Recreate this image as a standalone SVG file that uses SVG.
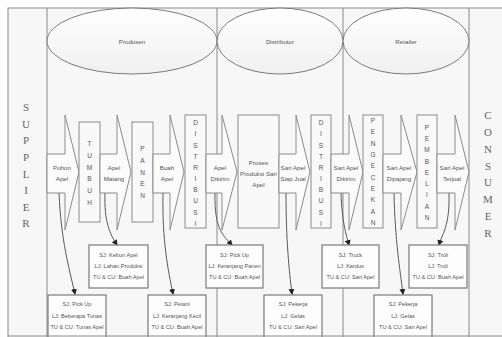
<svg xmlns="http://www.w3.org/2000/svg" width="502" height="337" viewBox="0 0 502 337">
<defs>
<marker id="ah" markerWidth="6" markerHeight="6" refX="5" refY="3" orient="auto" markerUnits="userSpaceOnUse">
<path d="M0,0 L6,3 L0,6 Z" fill="#222"/>
</marker>
<linearGradient id="g" x1="0" y1="0" x2="0" y2="1">
<stop offset="0" stop-color="#ffffff"/>
<stop offset="1" stop-color="#f0f0f0"/>
</linearGradient>
</defs>
<style>
.frame{fill:#f7f7f7;stroke:#8a8a8a;stroke-width:1}
.col{stroke:#8a8a8a;stroke-width:1;fill:none}
.ell{fill:url(#g);stroke:#7a7a7a;stroke-width:1}
.arr{fill:#fbfbfb;stroke:#8c8c8c;stroke-width:1}
.pbox{fill:#f9f9f9;stroke:#8c8c8c;stroke-width:1}
.ibox{fill:#fdfdfd;stroke:#7a7a7a;stroke-width:1.2}
.t{font-family:"Liberation Sans Narrow","Liberation Sans",sans-serif;font-size:6.2px;fill:#555;text-anchor:middle;dominant-baseline:central}
.s{font-family:"Liberation Sans Narrow","Liberation Sans",sans-serif;font-size:5.6px;fill:#555;text-anchor:middle;dominant-baseline:central}
.v{font-family:"Liberation Sans Narrow","Liberation Sans",sans-serif;font-size:6.5px;fill:#555;text-anchor:middle;dominant-baseline:central}
.big{font-family:"Liberation Serif",serif;font-size:11px;fill:#666;text-anchor:middle;dominant-baseline:central}
.con{fill:none;stroke:#5a5a5a;stroke-width:1;marker-end:url(#ah)}
</style>
<rect x="0" y="0" width="502" height="337" fill="#ffffff"/>
<rect class="frame" x="8" y="8" width="500" height="340"/>
<g id="columns">
<line class="col" x1="47" y1="8" x2="47" y2="337"/>
<line class="col" x1="217" y1="8" x2="217" y2="337"/>
<line class="col" x1="343" y1="8" x2="343" y2="337"/>
<line class="col" x1="469" y1="8" x2="469" y2="337"/>
</g>
<g id="produsen"><ellipse class="ell" cx="132" cy="41" rx="85" ry="33"/><text class="t" x="132" y="41">Produsen</text></g>
<g id="distributor"><ellipse class="ell" cx="280" cy="41" rx="63" ry="33"/><text class="t" x="280" y="41">Distributor</text></g>
<g id="retailer"><ellipse class="ell" cx="406" cy="41" rx="63" ry="33"/><text class="t" x="406" y="41">Retailer</text></g>
<g id="supplier">
<text class="big" x="26" y="107">S</text><text class="big" x="26" y="124">U</text><text class="big" x="26" y="140">P</text><text class="big" x="26" y="157">P</text><text class="big" x="26" y="174">L</text><text class="big" x="26" y="190">I</text><text class="big" x="26" y="207">E</text><text class="big" x="26" y="223">R</text>
</g>
<g id="consumer">
<text class="big" x="488" y="115">C</text><text class="big" x="488" y="132">O</text><text class="big" x="488" y="149">N</text><text class="big" x="488" y="166">S</text><text class="big" x="488" y="182">U</text><text class="big" x="488" y="199">M</text><text class="big" x="488" y="216">E</text><text class="big" x="488" y="233">R</text>
</g>
<g id="connectors">
<path class="con" d="M59,193 C61,240 69,268 75,294"/>
<path class="con" d="M105,193 C104,222 110,234 117,245"/>
<path class="con" d="M163,193 C162,240 168,270 173,294"/>
<path class="con" d="M215,193 C214,230 224,236 232,245"/>
<path class="con" d="M286,193 C286,240 289,270 292,294"/>
<path class="con" d="M341,193 C342,222 346,234 349,245"/>
<path class="con" d="M394,193 C395,240 400,270 403,294"/>
<path class="con" d="M449,193 C450,226 442,234 439,245"/>
</g>
<g id="a-pohon"><path class="arr" d="M47,154 H65 V115 L79,172 L65,230 V193 H47 Z"/><text class="t" x="62" y="167">Pohon</text><text class="t" x="62" y="178">Apel</text></g>
<g id="p-tumbuh"><rect class="pbox" x="79" y="122" width="21" height="100"/>
<text class="v" x="89.5" y="143">T</text><text class="v" x="89.5" y="155">U</text><text class="v" x="89.5" y="167">M</text><text class="v" x="89.5" y="178">B</text><text class="v" x="89.5" y="190">U</text><text class="v" x="89.5" y="202">H</text></g>
<g id="a-matang"><path class="arr" d="M100,154 H117 V115 L131,172 L117,230 V193 H100 Z"/><text class="t" x="114" y="167">Apel</text><text class="t" x="114" y="178">Matang</text></g>
<g id="p-panen"><rect class="pbox" x="132" y="122" width="21" height="100"/>
<text class="v" x="142.5" y="148">P</text><text class="v" x="142.5" y="160">A</text><text class="v" x="142.5" y="172">N</text><text class="v" x="142.5" y="183">E</text><text class="v" x="142.5" y="195">N</text></g>
<g id="a-buah"><path class="arr" d="M153,154 H170 V115 L184,172 L170,230 V193 H153 Z"/><text class="t" x="167" y="167">Buah</text><text class="t" x="167" y="178">Apel</text></g>
<g id="p-distribusi1"><rect class="pbox" x="185" y="115" width="21" height="113"/>
<text class="v" x="195.5" y="122">D</text><text class="v" x="195.5" y="133">I</text><text class="v" x="195.5" y="145">S</text><text class="v" x="195.5" y="156">T</text><text class="v" x="195.5" y="167">R</text><text class="v" x="195.5" y="178">I</text><text class="v" x="195.5" y="189">B</text><text class="v" x="195.5" y="200">U</text><text class="v" x="195.5" y="212">S</text><text class="v" x="195.5" y="223">I</text></g>
<g id="a-dikirim"><path class="arr" d="M206,154 H222 V115 L237,172 L222,230 V193 H206 Z"/><text class="t" x="220" y="167">Apel</text><text class="t" x="220" y="178">Dikirim</text></g>
<g id="p-proses"><rect class="pbox" x="238" y="115" width="41" height="113"/><text class="t" x="258.5" y="162">Proses</text><text class="t" x="258.5" y="173">Produksi Sari</text><text class="t" x="258.5" y="184">Apel</text></g>
<g id="a-siapjual"><path class="arr" d="M279,154 H296 V115 L310,172 L296,230 V193 H279 Z"/><text class="t" x="293" y="167">Sari Apel</text><text class="t" x="293" y="178">Siap Jual</text></g>
<g id="p-distribusi2"><rect class="pbox" x="311" y="115" width="20" height="113"/>
<text class="v" x="321" y="122">D</text><text class="v" x="321" y="133">I</text><text class="v" x="321" y="145">S</text><text class="v" x="321" y="156">T</text><text class="v" x="321" y="167">R</text><text class="v" x="321" y="178">I</text><text class="v" x="321" y="189">B</text><text class="v" x="321" y="200">U</text><text class="v" x="321" y="212">S</text><text class="v" x="321" y="223">I</text></g>
<g id="a-dikirim2"><path class="arr" d="M331,154 H349 V115 L363,172 L349,230 V193 H331 Z"/><text class="t" x="346" y="167">Sari Apel</text><text class="t" x="346" y="178">Dikirim</text></g>
<g id="p-pengecekan"><rect class="pbox" x="363" y="115" width="20" height="113"/>
<text class="v" x="373" y="120">P</text><text class="v" x="373" y="131">E</text><text class="v" x="373" y="143">N</text><text class="v" x="373" y="154">G</text><text class="v" x="373" y="165">E</text><text class="v" x="373" y="177">C</text><text class="v" x="373" y="188">E</text><text class="v" x="373" y="199">K</text><text class="v" x="373" y="211">A</text><text class="v" x="373" y="222">N</text></g>
<g id="a-dipajang"><path class="arr" d="M383,154 H401 V115 L417,172 L401,230 V193 H383 Z"/><text class="t" x="399" y="167">Sari Apel</text><text class="t" x="399" y="178">Dipajang</text></g>
<g id="p-pembelian"><rect class="pbox" x="417" y="115" width="20" height="113"/>
<text class="v" x="427" y="127">P</text><text class="v" x="427" y="138">E</text><text class="v" x="427" y="149">M</text><text class="v" x="427" y="161">B</text><text class="v" x="427" y="172">E</text><text class="v" x="427" y="183">L</text><text class="v" x="427" y="194">I</text><text class="v" x="427" y="206">A</text><text class="v" x="427" y="217">N</text></g>
<g id="a-terjual"><path class="arr" d="M437,154 H455 V115 L469,172 L455,230 V193 H437 Z"/><text class="t" x="452" y="167">Sari Apel</text><text class="t" x="452" y="178">Terjual</text></g>
<g id="i-kebun"><rect class="ibox" x="89" y="245" width="59" height="43"/><text class="s" x="118.5" y="255">SJ: Kebun Apel</text><text class="s" x="118.5" y="266">LJ: Lahan Produksi</text><text class="s" x="118.5" y="277">TU &amp; CU: Buah Apel</text></g>
<g id="i-pickup1"><rect class="ibox" x="48" y="295" width="58" height="46"/><text class="s" x="77" y="304">SJ: Pick Up</text><text class="s" x="77" y="316">LJ: Beberapa Tunas</text><text class="s" x="77" y="327">TU &amp; CU: Tunas Apel</text></g>
<g id="i-petani"><rect class="ibox" x="148" y="295" width="58" height="46"/><text class="s" x="177" y="304">SJ: Petani</text><text class="s" x="177" y="316">LJ: Keranjang Kecil</text><text class="s" x="177" y="327">TU &amp; CU: Buah Apel</text></g>
<g id="i-pickup2"><rect class="ibox" x="206" y="245" width="57" height="43"/><text class="s" x="234.5" y="255">SJ: Pick Up</text><text class="s" x="234.5" y="266">LJ: Keranjang Panen</text><text class="s" x="234.5" y="277">TU &amp; CU: Buah Apel</text></g>
<g id="i-pekerja1"><rect class="ibox" x="264" y="295" width="58" height="46"/><text class="s" x="293" y="304">SJ: Pekerja</text><text class="s" x="293" y="316">LJ: Gelas</text><text class="s" x="293" y="327">TU &amp; CU: Sari Apel</text></g>
<g id="i-truck"><rect class="ibox" x="322" y="245" width="57" height="43"/><text class="s" x="350.5" y="255">SJ: Truck</text><text class="s" x="350.5" y="266">LJ: Kardus</text><text class="s" x="350.5" y="277">TU &amp; CU: Sari Apel</text></g>
<g id="i-pekerja2"><rect class="ibox" x="374" y="295" width="58" height="46"/><text class="s" x="403" y="304">SJ: Pekerja</text><text class="s" x="403" y="316">LJ: Gelas</text><text class="s" x="403" y="327">TU &amp; CU: Sari Apel</text></g>
<g id="i-troli"><rect class="ibox" x="409" y="245" width="58" height="43"/><text class="s" x="438" y="255">SJ: Troli</text><text class="s" x="438" y="266">LJ: Troli</text><text class="s" x="438" y="277">TU &amp; CU: Buah Apel</text></g>
<line x1="8" y1="336" x2="502" y2="336" stroke="#8a8a8a" stroke-width="1"/>
</svg>
